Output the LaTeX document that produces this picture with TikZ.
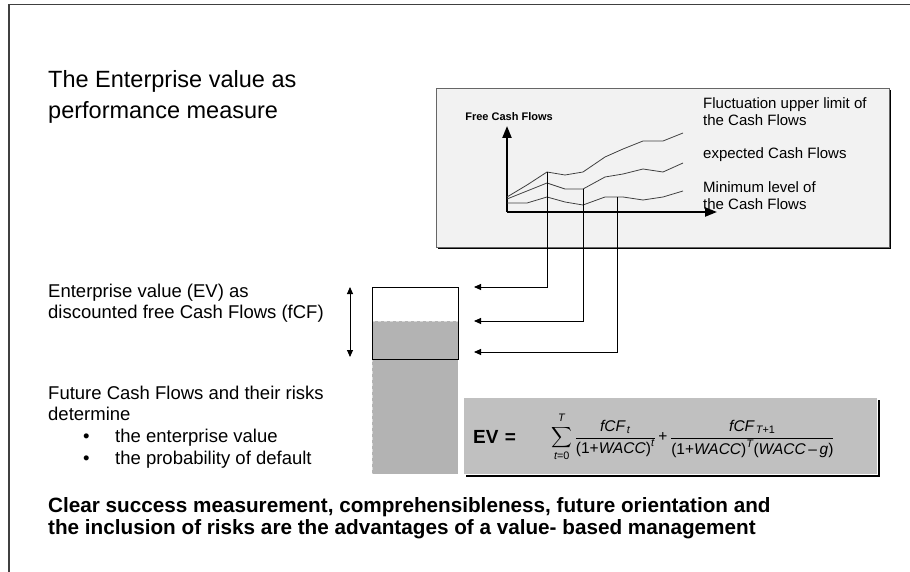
\RequirePackage{fix-cm}
\documentclass[tikz,border=0pt]{standalone}
\usepackage{amsmath}
\usepackage{fontspec}
\setmainfont{Liberation Sans}
\usepackage{tikz}
\usetikzlibrary{arrows.meta, positioning}

\definecolor{chartbg}{HTML}{F2F2F2}
\definecolor{bargray}{HTML}{B3B3B3}
\definecolor{formulagray}{HTML}{C0C0C0}

\begin{document}
\begin{tikzpicture}[x=1pt, y=-1pt,
        line/.style={anchor=base west, inner sep=0pt},
        big/.style={line, font=\fontsize{23.5}{28}\selectfont},
        body/.style={line, font=\fontsize{18.5}{21}\selectfont},
        small/.style={line, font=\fontsize{15}{17}\selectfont},
        strong/.style={line, font=\fontsize{20.7}{23}\selectfont\bfseries},
        curve/.style={draw=black!75, line width=0.8pt},
        tap/.style={-{Triangle[length=7pt,width=6pt]}, line width=0.9pt},
        axis/.style={-{Triangle[length=12pt,width=9pt]}, line width=2.2pt}]

        \useasboundingbox (0,0) rectangle (910,572);
        \draw[black!75, line width=1.5pt] (9,4.5) rectangle (920,590);

        % title
        \node[big] (title1) at (48,88) {The Enterprise value as};
        \node[big] (title2) at (48,119) {performance measure};

        % chart of the cash flows
        \draw[fill=chartbg, draw=black!60] (436,88) rectangle (889,247);
        \draw[line width=1.3pt] (890.5,90) -- (890.5,248.5) -- (438,248.5);

        \coordinate (origin) at (507,212);
        \coordinate (ytip) at (507,126);
        \coordinate (xtip) at (717,212);
        \draw[axis] (origin) -- (ytip);
        \draw[axis] (origin) -- (xtip);

        \node[font=\fontsize{11}{13}\selectfont\bfseries, inner sep=0pt] (fcf) at (509,117) {Free Cash Flows};

        \draw[curve] plot coordinates {(507,197) (527,185) (547,172) (565,175) (583,172)
            (605,157) (623,149) (643,141) (663,141) (683,133)};
        \draw[curve] plot coordinates {(507,199) (547,183) (565,189) (583,189) (605,177)
            (623,174) (643,169) (663,172) (683,163)};
        \draw[curve] plot coordinates {(507,203) (527,203) (547,197) (565,202) (583,205)
            (605,197) (623,197) (643,200) (663,197) (683,191)};

        \node[small] (upper1) at (703,109) {Fluctuation upper limit of};
        \node[small] (upper2) at (703,126) {the Cash Flows};
        \node[small] (expected) at (703,159) {expected Cash Flows};
        \node[small] (minimum1) at (703,193) {Minimum level of};
        \node[small] (minimum2) at (703,210) {the Cash Flows};

        % enterprise value bar
        \fill[bargray] (372,321) rectangle (458,474);
        \draw[white!85!black, dashed, line width=0.8pt] (372,321) -- (458,321);
        \draw[white!85!black, dashed, line width=0.8pt] (372,359) -- (372,474);
        \draw[line width=1pt] (372,287) rectangle (458,359);

        \coordinate (spanTop) at (350,287);
        \coordinate (spanBot) at (350,357);
        \draw[{Triangle[length=7pt,width=6pt]}-{Triangle[length=7pt,width=6pt]}, line width=0.9pt] (spanTop) -- (spanBot);

        \coordinate (tapUp) at (547,172);
        \coordinate (tapMid) at (583,189);
        \coordinate (tapLow) at (617,197);
        \coordinate (evTop) at (474,287);
        \coordinate (evMid) at (474,321);
        \coordinate (evLow) at (474,352);
        \draw[tap] (tapUp) |- (evTop);
        \draw[tap] (tapMid) |- (evMid);
        \draw[tap] (tapLow) |- (evLow);

        % texts on the left
        \node[body] (ev1) at (48,297) {Enterprise value (EV) as};
        \node[body] (ev2) at (48,318) {discounted free Cash Flows (fCF)};
        \node[body] (risk1) at (48,399) {Future Cash Flows and their risks};
        \node[body] (risk2) at (48,420) {determine};
        \node[body] (bul1) at (83,442) {\makebox[32pt][l]{•}the enterprise value};
        \node[body] (bul2) at (83,464) {\makebox[32pt][l]{•}the probability of default};

        % formula
        \fill[formulagray] (464,398) rectangle (877,474);
        \draw[line width=2pt] (879,400) -- (879,476) -- (466,476);
        \node[line, font=\fontsize{19}{21}\selectfont\bfseries] (evlabel) at (473,443) {EV\,\,=};
        \node[inner sep=0pt, font=\fontsize{15.5}{18}\selectfont] (formula) at (693,437)
            {$\displaystyle\sum_{\textit{t}\text{=0}}^{\text{\raisebox{1.5pt}{\textit{T}}}}
              \frac{\textit{fCF}_{\,\textit{t}}}{\text{(1+\textit{WACC})}^{\textit{t}}}
              \,\text{+}\,\frac{\textit{fCF}_{\,\textit{T}\text{+1}}}{\text{(1+\textit{WACC})}^{\textit{T}}\text{(\textit{WACC}\,--\,\textit{g})}}$};

        % conclusion
        \node[strong] (adv1) at (48,512) {Clear success measurement, comprehensibleness, future orientation and};
        \node[strong] (adv2) at (48,534) {the inclusion of risks are the advantages of a value- based management};
\end{tikzpicture}
\end{document}
